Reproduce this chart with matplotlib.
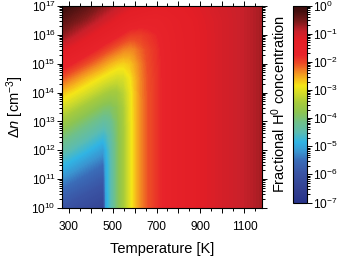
import numpy as np
import matplotlib
matplotlib.use("Agg")
import matplotlib.pyplot as plt
from matplotlib.colors import LinearSegmentedColormap, LogNorm
from matplotlib.cm import ScalarMappable
from matplotlib.ticker import FixedLocator, FuncFormatter, LogLocator

plt.rcParams['font.family'] = ['Liberation Sans', 'DejaVu Sans']
plt.rcParams['mathtext.fontset'] = 'custom'
plt.rcParams['mathtext.rm'] = 'Liberation Sans'
plt.rcParams['mathtext.it'] = 'Liberation Sans:italic'
plt.rcParams['mathtext.bf'] = 'Liberation Sans:bold'

# ---- data ----
temperatures = [270, 320, 380, 440, 458, 470, 490, 520, 550, 580,
                600, 630, 660, 700, 750, 800, 900, 1000, 1100, 1180]
log_dn = [10, 10.5, 11, 11.5, 12, 12.5, 13, 13.5, 14, 14.5, 15, 15.5, 16, 16.5, 17]

# log10 of fractional H0 concentration; one list per temperature (bottom -> top in log_dn)
log_frac_by_T = [
    [-5.95, -5.65, -5.25, -4.80, -4.40, -4.00, -3.55, -3.10, -2.65, -2.10, -1.55, -1.10, -0.65, -0.35, -0.10],
    [-6.10, -5.80, -5.42, -5.00, -4.58, -4.20, -3.78, -3.31, -2.84, -2.34, -1.79, -1.30, -0.85, -0.50, -0.22],
    [-6.25, -5.95, -5.62, -5.24, -4.80, -4.42, -4.03, -3.57, -3.08, -2.62, -2.07, -1.55, -1.10, -0.68, -0.38],
    [-6.40, -6.10, -5.80, -5.45, -5.05, -4.65, -4.27, -3.83, -3.33, -2.86, -2.35, -1.83, -1.35, -0.92, -0.58],
    [-6.45, -6.15, -5.85, -5.52, -5.12, -4.72, -4.34, -3.91, -3.41, -2.93, -2.44, -1.92, -1.43, -1.00, -0.64],
    [-5.04, -5.03, -5.01, -4.98, -4.88, -4.65, -4.33, -3.93, -3.45, -2.97, -2.50, -1.98, -1.48, -1.05, -0.68],
    [-4.60, -4.59, -4.59, -4.58, -4.54, -4.44, -4.25, -3.94, -3.51, -3.04, -2.59, -2.07, -1.56, -1.13, -0.76],
    [-4.00, -4.00, -4.00, -4.00, -3.99, -3.97, -3.91, -3.78, -3.51, -3.12, -2.70, -2.20, -1.70, -1.26, -0.88],
    [-3.50, -3.50, -3.50, -3.50, -3.50, -3.49, -3.48, -3.43, -3.32, -3.09, -2.75, -2.32, -1.83, -1.38, -0.98],
    [-3.00, -3.00, -3.00, -3.00, -3.00, -3.00, -2.99, -2.98, -2.95, -2.86, -2.67, -2.36, -1.95, -1.50, -1.08],
    [-2.70, -2.70, -2.70, -2.70, -2.70, -2.70, -2.70, -2.69, -2.68, -2.64, -2.53, -2.32, -1.96, -1.53, -1.12],
    [-2.35, -2.35, -2.35, -2.35, -2.35, -2.35, -2.35, -2.35, -2.34, -2.33, -2.29, -2.17, -1.96, -1.60, -1.17],
    [-2.10, -2.10, -2.10, -2.10, -2.10, -2.10, -2.10, -2.10, -2.10, -2.09, -2.06, -2.02, -1.89, -1.62, -1.24],
    [-1.90, -1.90, -1.90, -1.90, -1.90, -1.90, -1.90, -1.90, -1.90, -1.90, -1.88, -1.86, -1.79, -1.62, -1.32],
    [-1.65, -1.65, -1.65, -1.65, -1.65, -1.65, -1.65, -1.65, -1.65, -1.65, -1.65, -1.63, -1.60, -1.52, -1.32],
    [-1.45, -1.45, -1.45, -1.45, -1.45, -1.45, -1.45, -1.45, -1.45, -1.45, -1.45, -1.45, -1.43, -1.39, -1.27],
    [-1.20, -1.20, -1.20, -1.20, -1.20, -1.20, -1.20, -1.20, -1.20, -1.20, -1.20, -1.20, -1.20, -1.18, -1.14],
    [-1.05, -1.05, -1.05, -1.05, -1.05, -1.05, -1.05, -1.05, -1.05, -1.05, -1.05, -1.05, -1.05, -1.05, -1.02],
    [-0.90, -0.90, -0.90, -0.90, -0.90, -0.90, -0.90, -0.90, -0.90, -0.90, -0.90, -0.90, -0.90, -0.90, -0.90],
    [-0.75, -0.75, -0.75, -0.75, -0.75, -0.75, -0.75, -0.75, -0.75, -0.75, -0.75, -0.75, -0.75, -0.75, -0.75],
]

cbar_decades = [-7, -6, -5, -4, -3, -2, -1, 0]
x_tick_labels = [300, 500, 700, 900, 1100]

# ---- colormap ----
cmap_stops = [
    (0.000, '#28338a'), (0.064, '#334090'), (0.150, '#3a54a4'), (0.214, '#3a6cb8'),
    (0.257, '#3a94d0'), (0.307, '#30b4e4'), (0.357, '#5cbcb0'), (0.407, '#6fc08a'),
    (0.457, '#8cc452'), (0.507, '#a6cb3c'), (0.557, '#d4dc28'), (0.593, '#f5e617'),
    (0.629, '#f6b81c'), (0.664, '#f28a22'), (0.707, '#ec4a26'), (0.750, '#e8232a'),
    (0.829, '#e31e26'), (0.871, '#c8202a'), (0.921, '#7a1a1a'), (0.971, '#45100f'),
    (1.000, '#3a0c0c'),
]
cmap = LinearSegmentedColormap.from_list('h0', cmap_stops, N=512)

fig = plt.figure(figsize=(3.42, 2.59), dpi=100)
ax = fig.add_axes([0.1813, 0.1969, 0.5848, 0.7800])

Z = np.array(log_frac_by_T).T
ax.contourf(temperatures, log_dn, Z, levels=np.linspace(-7, 0, 281),
            cmap=cmap, vmin=-7, vmax=0, antialiased=False)

ax.set_xlim(270, 1180)
ax.set_ylim(10, 17)

ax.xaxis.set_major_locator(FixedLocator(list(range(300, 1101, 100))))
ax.xaxis.set_major_formatter(FuncFormatter(lambda v, p: f"{int(v)}" if int(v) in x_tick_labels else ""))
ax.xaxis.set_minor_locator(FixedLocator(list(range(300, 1180, 50))))

major_y = list(range(10, 18))
ax.yaxis.set_major_locator(FixedLocator(major_y))
ax.yaxis.set_major_formatter(FuncFormatter(lambda v, p: r"$10^{%d}$" % int(round(v))))
minor_y = [n + np.log10(k) for n in range(10, 17) for k in range(2, 10)]
ax.yaxis.set_minor_locator(FixedLocator(minor_y))

ax.tick_params(which='both', direction='out', top=True, right=True, labelsize=8.6,
               width=0.7)
ax.tick_params(which='major', length=3.5)
ax.tick_params(which='minor', length=2)
ax.tick_params(axis='x', which='major', pad=6)
ax.tick_params(axis='y', which='major', pad=1)
for s in ax.spines.values():
    s.set_linewidth(0.8)

ax.set_xlabel('Temperature [K]', fontsize=10.5, labelpad=6)
ax.set_ylabel(r'Δ$n$ [cm$^{-3}$]', fontsize=10.5, labelpad=4)

# ---- colorbar ----
cax = fig.add_axes([0.8576, 0.2181, 0.0392, 0.7600])
sm = ScalarMappable(norm=LogNorm(10.0 ** cbar_decades[0], 10.0 ** cbar_decades[-1]), cmap=cmap)
cbar = fig.colorbar(sm, cax=cax)
cbar.set_ticks([10.0 ** d for d in cbar_decades])
cbar.ax.yaxis.set_minor_locator(LogLocator(base=10, subs=range(2, 10)))
cbar.ax.tick_params(which='both', direction='out', labelsize=8.6, width=0.7, pad=1)
cbar.ax.tick_params(which='major', length=3.5)
cbar.ax.tick_params(which='minor', length=2)
cbar.outline.set_linewidth(0.8)
cbar.set_label(r'Fractional H$^0$ concentration', fontsize=10.5, labelpad=4)
cbar.ax.yaxis.set_label_position('left')

fig.savefig('out.png', dpi=100)
